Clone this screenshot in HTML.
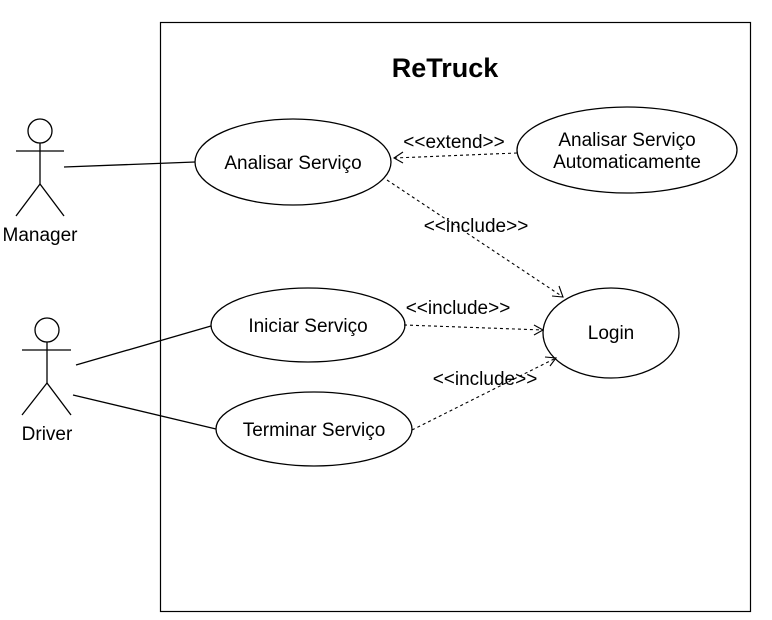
<!DOCTYPE html>
<html><head><style>
html,body{margin:0;padding:0;background:#fff;}
svg{display:block;}
text{font-family:"Liberation Sans",Arial,sans-serif;fill:#000;}
</style></head><body>
<svg width="772" height="620" viewBox="0 0 772 620" xmlns="http://www.w3.org/2000/svg">
<rect x="0" y="0" width="772" height="620" fill="#fff"/>
<rect x="160.5" y="22.5" width="590" height="589" fill="none" stroke="#000" stroke-width="1.2"/>
<text x="445" y="77" font-size="27" font-weight="bold" text-anchor="middle">ReTruck</text>
<g stroke="#000" stroke-width="1.3" fill="none">
<circle cx="40" cy="131" r="12"/>
<line x1="40" y1="143" x2="40" y2="184"/>
<line x1="16" y1="151" x2="64" y2="151"/>
<line x1="40" y1="184" x2="16" y2="216"/>
<line x1="40" y1="184" x2="64" y2="216"/>
<circle cx="47" cy="330" r="12"/>
<line x1="47" y1="342" x2="47" y2="383"/>
<line x1="22" y1="350" x2="71" y2="350"/>
<line x1="47" y1="383" x2="22" y2="415"/>
<line x1="47" y1="383" x2="71" y2="415"/>
<line x1="64" y1="167" x2="195" y2="162"/>
<line x1="76" y1="365" x2="211" y2="326"/>
<line x1="73" y1="395" x2="216" y2="429"/>
<ellipse cx="293" cy="162" rx="98" ry="43" fill="#fff"/>
<ellipse cx="308" cy="325" rx="97" ry="37" fill="#fff"/>
<ellipse cx="314" cy="429" rx="98" ry="37" fill="#fff"/>
<ellipse cx="611" cy="333" rx="68" ry="45" fill="#fff"/>
<ellipse cx="627" cy="150" rx="110" ry="43" fill="#fff"/>
</g>
<g stroke="#000" stroke-width="1.1" fill="none" stroke-dasharray="3,3">
<line x1="517" y1="153" x2="394" y2="158"/>
<line x1="387" y1="180" x2="563" y2="297"/>
<line x1="404" y1="325" x2="543" y2="330"/>
<line x1="412" y1="430" x2="556" y2="358"/>
</g>
<g stroke="#000" stroke-width="1.1" fill="none">
<polyline points="403,152 394,158 403,163"/>
<polyline points="552,296 563,297 559,286"/>
<polyline points="534,325 543,330 534,335"/>
<polyline points="545,357 556,358 550,366"/>
</g>
<g font-size="19" text-anchor="middle">
<text x="40" y="241">Manager</text>
<text x="47" y="440">Driver</text>
<text x="293" y="169">Analisar Serviço</text>
<text x="308" y="332">Iniciar Serviço</text>
<text x="314" y="436">Terminar Serviço</text>
<text x="611" y="339">Login</text>
<text x="627" y="146">Analisar Serviço</text>
<text x="627" y="168">Automaticamente</text>
<text x="454" y="148">&lt;&lt;extend&gt;&gt;</text>
<text x="476" y="232">&lt;&lt;include&gt;&gt;</text>
<text x="458" y="314">&lt;&lt;include&gt;&gt;</text>
<text x="485" y="385">&lt;&lt;include&gt;&gt;</text>
</g>
</svg>
</body></html>
